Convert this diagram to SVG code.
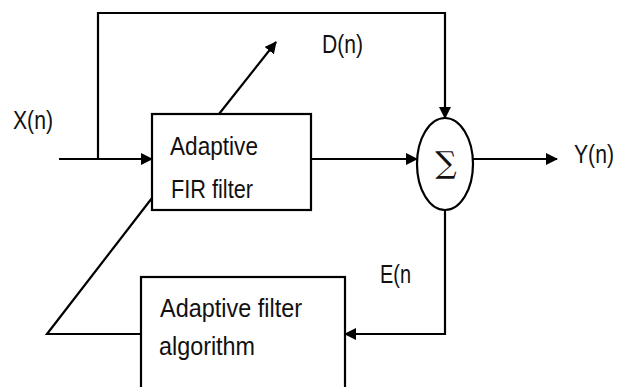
<svg xmlns="http://www.w3.org/2000/svg" width="623" height="387" viewBox="0 0 623 387">
<style>
.l{fill:none;stroke:#000;stroke-width:2.2}
.b{fill:#fff;stroke:#000;stroke-width:2.2}
text{font-family:"Liberation Sans",Arial,sans-serif;font-size:25px;fill:#111}
.s{font-family:"DejaVu Serif",serif;font-size:30px}
</style>
<defs>
<marker id="a" markerWidth="12" markerHeight="12" refX="11" refY="6" orient="auto" markerUnits="userSpaceOnUse">
<path d="M0,0 L12,6 L0,12 Z" fill="#000"/>
</marker>
</defs>
<rect width="623" height="387" fill="#fff"/>
<g id="connectors">
<path class="l" d="M59,159 H152" marker-end="url(#a)"/>
<path class="l" d="M98,159 V13 H445 V118" marker-end="url(#a)"/>
<path class="l" d="M219,114 L276,42" marker-end="url(#a)"/>
<path class="l" d="M311,159 H417" marker-end="url(#a)"/>
<path class="l" d="M473,159 H557" marker-end="url(#a)"/>
<path class="l" d="M445,210 V334 H345" marker-end="url(#a)"/>
<path class="l" d="M141,334 H47 L152,198"/>
</g>
<g id="fir">
<rect class="b" x="152" y="114" width="159" height="96"/>
<text x="170" y="155" textLength="88" lengthAdjust="spacingAndGlyphs">Adaptive</text>
<text x="171" y="198" textLength="82" lengthAdjust="spacingAndGlyphs">FIR filter</text>
</g>
<g id="sum">
<ellipse class="b" cx="445" cy="164" rx="28" ry="46"/>
<text class="s" x="446" y="173" text-anchor="middle">∑</text>
</g>
<g id="algo">
<rect class="b" x="141" y="277" width="204" height="120"/>
<text x="160" y="317" textLength="142" lengthAdjust="spacingAndGlyphs">Adaptive filter</text>
<text x="159" y="355" textLength="96" lengthAdjust="spacingAndGlyphs">algorithm</text>
</g>
<g id="labels">
<text x="13" y="129" textLength="40" lengthAdjust="spacingAndGlyphs">X(n)</text>
<text x="322" y="53" textLength="41" lengthAdjust="spacingAndGlyphs">D(n)</text>
<text x="574" y="163" textLength="40" lengthAdjust="spacingAndGlyphs">Y(n)</text>
<text x="380" y="283" textLength="31" lengthAdjust="spacingAndGlyphs">E(n</text>
</g>
</svg>
